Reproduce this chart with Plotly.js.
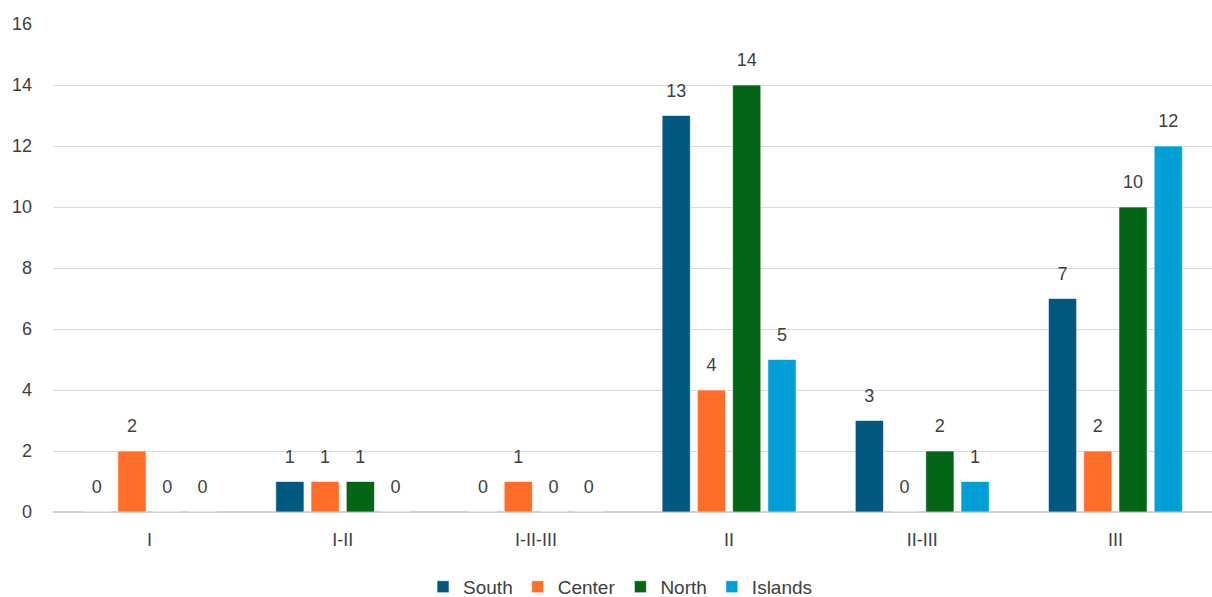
<!DOCTYPE html>
<html><head><meta charset="utf-8">
<script src="https://cdn.plot.ly/plotly-3.0.1.min.js"></script>
<style>html,body{margin:0;padding:0;background:#fff}#chart{width:1212px;height:597px}</style>
</head><body><div id="chart"></div>
<script>
const categories = ["I", "I-II", "I-II-III", "II", "II-III", "III"];
const south   = [0, 1, 0, 13, 3, 7];
const center  = [2, 1, 1, 4, 0, 2];
const north   = [0, 1, 0, 14, 2, 10];
const islands = [0, 0, 0, 5, 1, 12];
const seriesNames = ["South", "Center", "North", "Islands"];
const seriesColors = ["#03587f", "#ff6d28", "#036617", "#009fd6"];
const yTicks = [0, 2, 4, 6, 8, 10, 12, 14, 16];

const allSeries = [south, center, north, islands];
const fontFam = "Liberation Sans, Arial, sans-serif";

const barTraces = allSeries.map((vals, i) => ({
  type: "bar",
  name: seriesNames[i],
  x: categories,
  y: vals,
  offsetgroup: "g" + i,
  marker: {color: seriesColors[i], line: {color: "rgba(255,255,255,0.6)", width: 1}},
  hoverinfo: "none"
}));

const labelTraces = allSeries.map((vals, i) => ({
  type: "scatter",
  mode: "markers+text",
  name: seriesNames[i] + " labels",
  showlegend: false,
  x: categories,
  y: vals,
  offsetgroup: "g" + i,
  text: vals.map(v => String(v)),
  textposition: "top center",
  cliponaxis: false,
  marker: {size: 21, opacity: 0, color: seriesColors[i]},
  textfont: {family: fontFam, size: 18, color: "#404040"},
  hoverinfo: "none"
}));

const layout = {
  width: 1212, height: 597,
  margin: {l: 53, r: 0, t: 24, b: 85},
  paper_bgcolor: "#fff", plot_bgcolor: "#fff",
  barmode: "group",
  scattermode: "group",
  bargap: 0.27,
  scattergap: 0.27,
  bargroupgap: 0.2,
  font: {family: fontFam, color: "#404040", size: 18},
  xaxis: {
    type: "category",
    showgrid: false,
    showline: false,
    ticks: "",
    tickfont: {size: 18, color: "#404040"},
    ticklabelstandoff: 15
  },
  yaxis: {
    range: [0, 16],
    tickvals: yTicks,
    ticktext: yTicks.map(String),
    gridcolor: "#d9d9d9",
    gridwidth: 1,
    zeroline: true,
    zerolinecolor: "#d0d0d0",
    zerolinewidth: 1.5,
    showline: false,
    ticks: "",
    tickfont: {size: 18, color: "#404040"},
    ticklabelstandoff: 20
  },
  showlegend: true,
  legend: {
    orientation: "h",
    xref: "container", yref: "container",
    x: 0.512, xanchor: "center",
    y: 0.017, yanchor: "middle",
    font: {size: 19, color: "#404040"},
    itemwidth: 30,
    tracegroupgap: 0
  }
};

Plotly.newPlot("chart", barTraces.concat(labelTraces), layout, {staticPlot: true, displayModeBar: false});
</script>
</body></html>
